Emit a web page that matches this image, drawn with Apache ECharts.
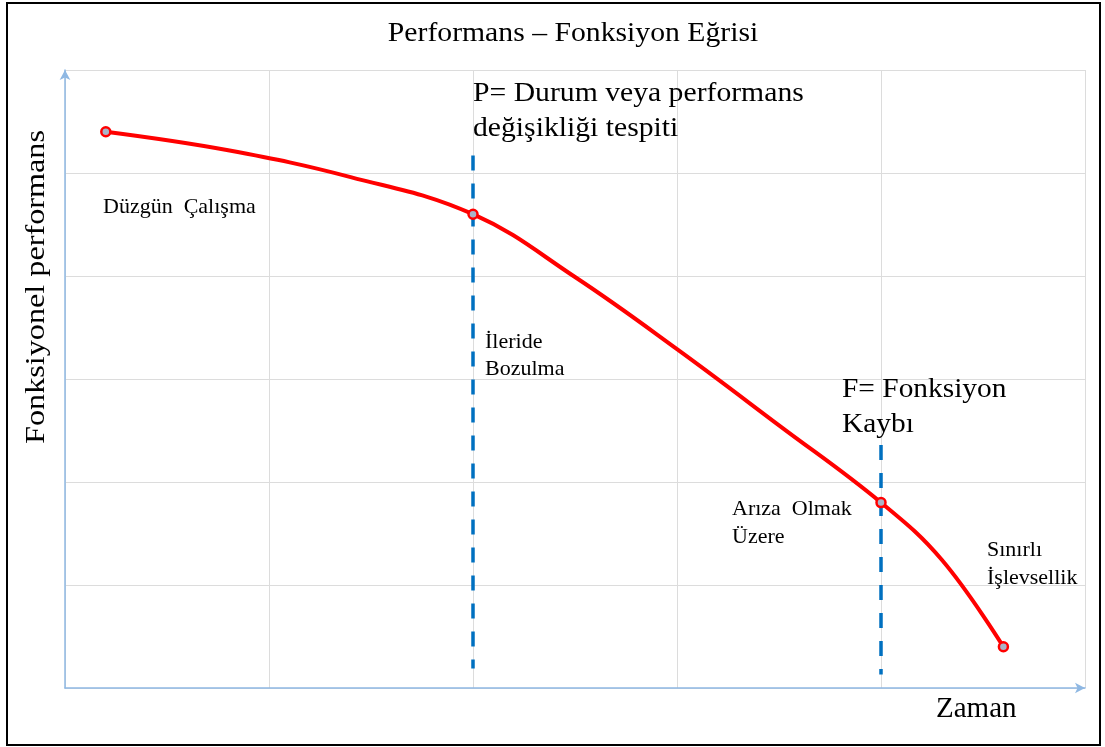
<!DOCTYPE html>
<html>
<head>
<meta charset="utf-8">
<title>Performans – Fonksiyon Eğrisi</title>
<script src="https://cdn.jsdelivr.net/npm/echarts@6/dist/echarts.min.js"></script>
<style>
    html, body { margin: 0; padding: 0; background: #fff; }
    #curve-chart { width: 1105px; height: 747px; }
</style>
</head>
<body>
<div id="curve-chart"></div>
<script>
// Curve samples (time, performance)
var timeValues = [0.2, 0.8, 1.4, 2.0, 2.5, 3.0, 3.5, 4.0, 4.3, 4.6];
var perfValues = [5.40, 5.22, 4.96, 4.60, 3.99, 3.29, 2.55, 1.80, 1.24, 0.40];
// indexes of the points drawn with a marker
var markedPoints = [0, 3, 7, 9];

// Dashed markers: P at time 2, F at time 4 (from / to on the performance axis)
var pLine = [2, 5.17, 0.19];
var fLine = [4, 2.36, 0.13];

var serif = '"Liberation Serif"';

function label(text, x, y, size, lineHeight, scaleX, align) {
    return {
        type: 'text',
        x: x,
        y: y,
        scaleX: scaleX || 1,
        z: 10,
        style: {
            text: text,
            font: size + 'px ' + serif,
            fill: '#000',
            lineHeight: lineHeight || size,
            align: align || 'left',
            verticalAlign: 'top'
        }
    };
}

function curveChart() {
    "use strict";
    var chart = echarts.init(document.getElementById('curve-chart'));

    var data = [];
    for (var i = 0; i < timeValues.length; i++) {
        var marked = markedPoints.indexOf(i) >= 0;
        data.push({
            value: [timeValues[i], perfValues[i]],
            symbol: marked ? 'circle' : 'none',
            symbolSize: marked ? 9 : 0
        });
    }

    var option = {
        backgroundColor: '#fff',
        animation: false,

        grid: { left: 65, right: 20, top: 70, bottom: 59 },

        xAxis: {
            type: 'value',
            min: 0,
            max: 5,
            interval: 1,
            axisLine: {
                show: true,
                symbol: ['none', 'arrow'],
                symbolSize: [8, 10],
                lineStyle: { color: '#8fb8e3', width: 1.5 }
            },
            axisTick: { show: false },
            axisLabel: { show: false },
            splitLine: { show: true, lineStyle: { color: '#dcdcdc', width: 1 } }
        },
        yAxis: {
            type: 'value',
            min: 0,
            max: 6,
            interval: 1,
            axisLine: {
                show: true,
                symbol: ['none', 'arrow'],
                symbolSize: [8, 10],
                lineStyle: { color: '#8fb8e3', width: 1.5 }
            },
            axisTick: { show: false },
            axisLabel: { show: false },
            splitLine: { show: true, lineStyle: { color: '#dcdcdc', width: 1 } }
        },

        series: [{
            name: 'Performans',
            type: 'line',
            smooth: 0.4,
            data: data,
            lineStyle: { color: '#ff0000', width: 4 },
            itemStyle: { color: '#aab4c8', borderColor: '#ff0000', borderWidth: 2.5 },
            z: 5,
            markLine: {
                silent: true,
                symbol: ['none', 'none'],
                label: { show: false },
                lineStyle: { color: '#0070c0', width: 3.5, type: [15, 13] },
                data: [
                    [{ coord: [pLine[0], pLine[1]] }, { coord: [pLine[0], pLine[2]] }],
                    [{ coord: [fLine[0], fLine[1]] }, { coord: [fLine[0], fLine[2]] }]
                ]
            }
        }],

        // Title, axis names, annotations and frame
        graphic: [
            {
                type: 'rect', z: -1,
                shape: { x: 7, y: 3, width: 1093, height: 742 },
                style: { fill: 'none', stroke: '#000', lineWidth: 2 }
            },
            label('Performans – Fonksiyon Eğrisi', 573, 20, 27, 27, 1.1, 'center'),
            label('P= Durum veya performans\ndeğişikliği tespiti', 473, 76, 28, 35, 1.06),
            label('Düzgün  Çalışma', 103, 196, 22, 22),
            label('İleride\nBozulma', 485, 329, 22, 27),
            label('F= Fonksiyon\nKaybı', 842, 372, 28, 35, 1.05),
            label('Arıza  Olmak\nÜzere', 732, 495, 22, 28),
            label('Sınırlı\nİşlevsellik', 987, 536, 22, 28),
            label('Zaman', 936, 695, 29, 29),
            {
                type: 'text',
                x: 37,
                y: 287,
                rotation: Math.PI / 2,
                scaleX: 1.15,
                z: 10,
                style: {
                    text: 'Fonksiyonel performans',
                    font: '28px ' + serif,
                    fill: '#000',
                    align: 'center',
                    verticalAlign: 'middle'
                }
            }
        ]
    };

    chart.setOption(option);
}

curveChart();
</script>
</body>
</html>
